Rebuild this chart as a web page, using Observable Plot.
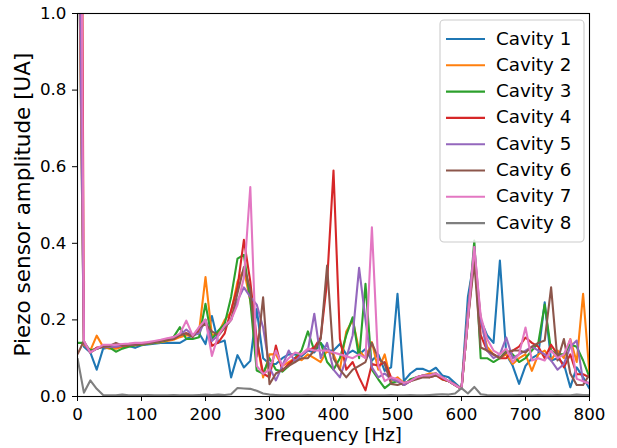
<!DOCTYPE html>
<html>
<head>
<meta charset="utf-8">
<script src="https://cdn.jsdelivr.net/npm/d3@7"></script>
<script src="https://cdn.jsdelivr.net/npm/@observablehq/plot@0.6"></script>
<style>
  html, body { margin: 0; padding: 0; background: #ffffff; }
  #chart { width: 617px; height: 448px; }
</style>
</head>
<body>
<div id="chart"></div>
<script>
const frequency = [0,10,20,30,40,50,60,70,80,90,100,110,120,130,140,150,160,170,180,190,200,210,220,230,240,250,260,270,280,290,300,310,320,330,340,350,360,370,380,390,400,410,420,430,440,450,460,470,480,490,500,510,520,530,540,550,560,570,580,590,600,610,620,630,640,650,660,670,680,690,700,710,720,730,740,750,760,770,780,790,800];

const cavity1 = [1.5,0.13,0.115,0.07,0.125,0.128,0.13,0.13,0.132,0.127,
 0.134,0.136,0.138,0.14,0.14,0.14,0.14,0.15,0.16,0.165,
 0.137,0.21,0.14,0.146,0.05,0.108,0.076,0.093,0.228,0.1,
 0.085,0.085,0.1,0.11,0.11,0.105,0.12,0.115,0.14,0.12,
 0.12,0.137,0.11,0.12,0.11,0.124,0.094,0.11,0.067,0.076,
 0.268,0.04,0.06,0.072,0.072,0.065,0.075,0.055,0.05,0.035,
 0.02,0.26,0.36,0.2,0.16,0.14,0.355,0.11,0.08,0.033,
 0.08,0.1,0.11,0.246,0.094,0.1,0.085,0.024,0.076,0.05,0.02];
const cavity2 = [1.5,0.135,0.12,0.159,0.13,0.125,0.125,0.13,0.132,0.134,
 0.135,0.138,0.14,0.142,0.145,0.148,0.155,0.16,0.158,0.17,
 0.312,0.16,0.165,0.2,0.22,0.3,0.33,0.25,0.15,0.05,
 0.11,0.11,0.08,0.09,0.1,0.095,0.11,0.1,0.09,0.12,
 0.11,0.07,0.17,0.2,0.12,0.1,0.142,0.07,0.11,0.04,
 0.05,0.035,0.04,0.05,0.055,0.06,0.06,0.045,0.04,0.03,
 0.02,0.22,0.38,0.2,0.13,0.11,0.1,0.11,0.085,0.1,
 0.11,0.067,0.11,0.12,0.095,0.12,0.1,0.15,0.09,0.268,0.058];
const cavity3 = [0.14,0.14,0.12,0.125,0.13,0.128,0.117,0.125,0.13,0.133,
 0.135,0.138,0.14,0.143,0.147,0.155,0.181,0.15,0.15,0.155,
 0.242,0.15,0.172,0.19,0.26,0.36,0.37,0.25,0.068,0.06,
 0.1,0.07,0.065,0.08,0.1,0.12,0.17,0.12,0.14,0.09,
 0.07,0.1,0.16,0.207,0.1,0.294,0.07,0.045,0.022,0.035,
 0.04,0.03,0.045,0.05,0.055,0.055,0.06,0.045,0.04,0.03,
 0.02,0.2,0.407,0.1,0.1,0.09,0.1,0.12,0.11,0.09,
 0.1,0.12,0.14,0.24,0.12,0.11,0.11,0.136,0.13,0.094,0.05];
const cavity4 = [4.0,0.14,0.115,0.128,0.13,0.13,0.13,0.132,0.134,0.135,
 0.137,0.14,0.142,0.145,0.148,0.15,0.16,0.165,0.16,0.17,
 0.2,0.132,0.141,0.165,0.225,0.285,0.409,0.3,0.15,0.06,
 0.05,0.133,0.068,0.085,0.1,0.11,0.12,0.128,0.154,0.3,
 0.59,0.15,0.07,0.09,0.05,0.016,0.085,0.08,0.09,0.05,
 0.04,0.03,0.04,0.05,0.055,0.05,0.055,0.045,0.04,0.03,
 0.02,0.2,0.37,0.16,0.12,0.11,0.1,0.1,0.12,0.13,
 0.154,0.14,0.13,0.1,0.135,0.11,0.076,0.11,0.058,0.058,0.05];
const cavity5 = [1.6,0.14,0.115,0.125,0.13,0.13,0.13,0.133,0.135,0.136,
 0.138,0.14,0.142,0.145,0.15,0.155,0.16,0.175,0.16,0.165,
 0.2,0.145,0.16,0.18,0.2,0.25,0.285,0.26,0.24,0.18,
 0.076,0.042,0.08,0.12,0.09,0.11,0.12,0.216,0.1,0.14,
 0.07,0.05,0.1,0.16,0.336,0.2,0.076,0.05,0.06,0.045,
 0.04,0.03,0.04,0.05,0.055,0.055,0.06,0.05,0.04,0.03,
 0.02,0.22,0.39,0.2,0.12,0.1,0.11,0.154,0.1,0.11,
 0.12,0.13,0.12,0.11,0.094,0.07,0.085,0.13,0.146,0.04,0.035];
const cavity6 = [0.11,0.145,0.115,0.125,0.13,0.132,0.14,0.133,0.135,0.136,
 0.138,0.14,0.142,0.145,0.148,0.15,0.16,0.165,0.155,0.18,
 0.19,0.17,0.16,0.18,0.2,0.27,0.338,0.28,0.104,0.259,
 0.032,0.06,0.07,0.08,0.09,0.1,0.1,0.12,0.15,0.342,
 0.1,0.07,0.05,0.07,0.08,0.09,0.14,0.1,0.085,0.033,
 0.03,0.035,0.04,0.045,0.05,0.05,0.055,0.05,0.04,0.03,
 0.02,0.2,0.35,0.128,0.12,0.11,0.1,0.115,0.12,0.12,
 0.115,0.13,0.14,0.146,0.285,0.094,0.15,0.06,0.03,0.03,0.058];
const cavity7 = [3.0,0.145,0.115,0.125,0.135,0.135,0.135,0.137,0.138,0.14,
 0.14,0.142,0.145,0.148,0.152,0.155,0.164,0.198,0.159,0.181,
 0.201,0.106,0.16,0.185,0.2,0.24,0.31,0.547,0.08,0.059,
 0.07,0.12,0.08,0.1,0.115,0.11,0.125,0.12,0.12,0.12,
 0.115,0.11,0.105,0.1,0.11,0.1,0.442,0.08,0.04,0.05,
 0.045,0.035,0.04,0.05,0.055,0.055,0.06,0.05,0.04,0.03,
 0.02,0.2,0.39,0.21,0.15,0.12,0.11,0.125,0.09,0.111,
 0.18,0.094,0.1,0.094,0.12,0.1,0.11,0.149,0.046,0.04,0.033];
const cavity8 = [0.1,0.01,0.042,0.02,0.004,0.003,0.003,0.005,0.003,0.003,
 0.003,0.004,0.003,0.003,0.003,0.004,0.003,0.003,0.003,0.004,
 0.005,0.004,0.005,0.004,0.006,0.022,0.021,0.02,0.015,0.008,
 0.005,0.004,0.003,0.003,0.003,0.003,0.004,0.003,0.003,0.003,
 0.003,0.004,0.003,0.003,0.003,0.004,0.003,0.003,0.003,0.004,
 0.003,0.003,0.004,0.003,0.003,0.004,0.005,0.006,0.005,0.008,
 0.022,0.008,0.025,0.006,0.004,0.003,0.003,0.003,0.003,0.004,
 0.003,0.003,0.004,0.003,0.003,0.004,0.003,0.003,0.005,0.004,0.004];

const seriesNames = ["Cavity 1","Cavity 2","Cavity 3","Cavity 4","Cavity 5","Cavity 6","Cavity 7","Cavity 8"];
const seriesColors = ["#1f77b4","#ff7f0e","#2ca02c","#d62728","#9467bd","#8c564b","#e377c2","#7f7f7f"];
const xTicks = [0,100,200,300,400,500,600,700,800];
const yTicks = [0.0,0.2,0.4,0.6,0.8,1.0];
const xLabel = "Frequency [Hz]";
const yLabel = "Piezo sensor amplitude [UA]";

const allSeries = [cavity1,cavity2,cavity3,cavity4,cavity5,cavity6,cavity7,cavity8];
const rows = [];
allSeries.forEach((vals, k) => {
  vals.forEach((v, i) => rows.push({freq: frequency[i], value: v, series: seriesNames[k]}));
});

const W = 617, H = 448;
const mL = 77, mR = 28, mT = 13, mB = 52;
const FONT = "DejaVu Sans";

const chart = Plot.plot({
  width: W, height: H,
  marginLeft: mL, marginRight: mR, marginTop: mT, marginBottom: mB,
  style: {fontFamily: FONT, fontSize: "16.7px", color: "#000", background: "#fff", overflow: "visible"},
  x: {domain: [0, 800]},
  y: {domain: [0, 1]},
  color: {domain: seriesNames, range: seriesColors},
  marks: [
    Plot.line(rows, {x: "freq", y: "value", z: "series", stroke: "series", strokeWidth: 2.1, clip: true, strokeLinejoin: "round", strokeLinecap: "butt"}),
    Plot.frame({stroke: "#000", strokeWidth: 1.1}),
    Plot.axisX({ticks: xTicks, tickSize: 5, tickPadding: 7, tickFormat: d => String(d), label: null, fontSize: 16.7, stroke: "#000"}),
    Plot.axisY({ticks: yTicks, tickSize: 5, tickPadding: 6, tickFormat: d3.format(".1f"), label: null, fontSize: 16.7, stroke: "#000"})
  ]
});
document.getElementById("chart").appendChild(chart);

const svg = d3.select(chart);
// axis titles
svg.append("text")
  .attr("x", (mL + W - mR) / 2).attr("y", 441)
  .attr("text-anchor", "middle")
  .attr("font-family", FONT).attr("font-size", 18.3).attr("fill", "#000")
  .text(xLabel);
svg.append("text")
  .attr("transform", `translate(22,${(mT + H - mB) / 2}) rotate(-90)`)
  .attr("text-anchor", "middle").attr("dy", "0.35em")
  .attr("font-family", FONT).attr("font-size", 21.5).attr("fill", "#000")
  .text(yLabel);

// legend
const lg = svg.append("g");
const lx = 440, ly = 20, lw = 144, lh = 222;
lg.append("rect").attr("x", lx).attr("y", ly).attr("width", lw).attr("height", lh)
  .attr("rx", 4).attr("fill", "#fff").attr("fill-opacity", 0.8)
  .attr("stroke", "#cccccc").attr("stroke-width", 1.1);
seriesNames.forEach((name, k) => {
  const cy = 38 + k * 26.3;
  lg.append("line").attr("x1", 446).attr("x2", 485).attr("y1", cy + 1).attr("y2", cy + 1)
    .attr("stroke", seriesColors[k]).attr("stroke-width", 2.1);
  lg.append("text").attr("x", 496).attr("y", cy).attr("dy", "0.36em")
    .attr("text-anchor", "start")
    .attr("font-family", FONT).attr("font-size", 18.3).attr("fill", "#000")
    .text(name);
});
</script>
</body>
</html>
